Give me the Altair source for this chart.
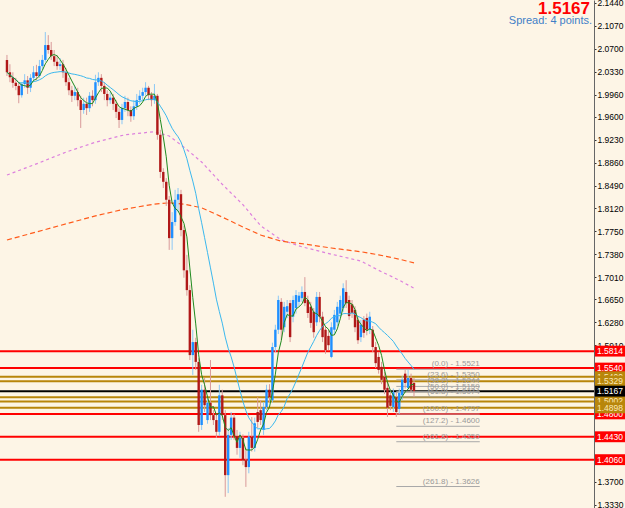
import altair as alt
import pandas as pd

# ---------------- data (prices) ----------------
opens = [2.052,2.032,2.024,2.015,2.010,1.995,2.013,2.019,2.007,2.023,
         2.032,2.026,2.042,2.052,2.076,2.068,2.058,2.049,2.042,2.045,
         2.032,2.016,2.003,1.994,2.000,1.987,1.971,1.981,1.974,1.994,
         1.987,2.016,2.023,2.010,1.997,1.987,1.991,1.981,1.968,1.955,
         1.974,1.984,1.971,1.961,1.977,1.987,1.994,2.000,2.007,1.995,
         1.987,1.994,1.931,1.871,1.855,1.826,1.764,1.790,1.826,1.835,
         1.777,1.712,1.680,1.575,1.596,1.564,1.462,1.519,1.470,1.498,
         1.478,1.470,1.451,1.510,1.478,1.381,1.446,1.474,1.444,1.425,
         1.441,1.405,1.394,1.443,1.425,1.483,1.486,1.454,1.491,1.519,
         1.502,1.588,1.616,1.661,1.620,1.645,1.659,1.637,1.651,1.661,
         1.667,1.677,1.664,1.653,1.645,1.628,1.669,1.637,1.616,1.606,
         1.572,1.616,1.628,1.642,1.651,1.677,1.664,1.657,1.648,1.632,
         1.604,1.632,1.635,1.616,1.616,1.588,1.572,1.556,1.540,1.522,
         1.510,1.491,1.507,1.488,1.510,1.545,1.522,1.538,1.530]
closes = [2.032,2.024,2.015,2.010,1.995,2.013,2.019,2.007,2.023,2.032,
          2.026,2.042,2.052,2.076,2.068,2.058,2.049,2.042,2.045,2.032,
          2.016,2.003,1.994,2.000,1.987,1.971,1.981,1.974,1.994,1.987,
          2.016,2.023,2.010,1.997,1.987,1.991,1.981,1.968,1.955,1.974,
          1.984,1.971,1.961,1.977,1.987,1.994,2.000,2.007,1.995,1.987,
          1.994,1.931,1.871,1.855,1.826,1.764,1.790,1.826,1.835,1.777,
          1.712,1.680,1.575,1.596,1.564,1.462,1.519,1.494,1.498,1.478,
          1.470,1.451,1.510,1.478,1.381,1.446,1.474,1.444,1.425,1.441,
          1.405,1.394,1.443,1.425,1.465,1.467,1.470,1.491,1.519,1.507,
          1.588,1.616,1.664,1.616,1.653,1.654,1.604,1.664,1.672,1.671,
          1.677,1.659,1.643,1.627,1.612,1.669,1.637,1.604,1.583,1.591,
          1.620,1.640,1.653,1.664,1.683,1.659,1.638,1.643,1.620,1.599,
          1.624,1.611,1.616,1.637,1.588,1.562,1.551,1.535,1.519,1.490,
          1.493,1.515,1.483,1.514,1.535,1.530,1.538,1.519,1.5167]
highs = [2.060,2.045,2.032,2.023,2.016,2.016,2.029,2.026,2.029,2.042,
         2.044,2.052,2.060,2.097,2.092,2.081,2.068,2.060,2.055,2.052,
         2.039,2.023,2.010,2.010,2.007,1.994,1.991,1.991,2.000,2.003,
         2.028,2.032,2.029,2.016,2.003,2.000,1.997,1.987,1.974,1.981,
         1.994,1.991,1.977,1.987,1.997,2.003,2.007,2.016,2.010,2.000,
         2.013,1.997,1.939,1.877,1.861,1.832,1.806,1.842,1.845,1.842,
         1.784,1.737,1.688,1.616,1.603,1.570,1.527,1.538,1.506,1.567,
         1.486,1.480,1.527,1.519,1.486,1.457,1.483,1.480,1.454,1.451,
         1.447,1.425,1.451,1.475,1.474,1.507,1.502,1.499,1.527,1.528,
         1.595,1.624,1.671,1.667,1.661,1.664,1.664,1.671,1.680,1.677,
         1.686,1.701,1.671,1.661,1.651,1.677,1.677,1.645,1.622,1.616,
         1.628,1.648,1.661,1.671,1.691,1.696,1.671,1.664,1.654,1.638,
         1.632,1.638,1.642,1.645,1.622,1.596,1.580,1.564,1.548,1.532,
         1.519,1.521,1.515,1.521,1.541,1.551,1.551,1.545,1.538]
lows = [2.026,2.016,2.007,2.003,1.982,1.991,2.007,1.997,2.000,2.016,
        2.019,2.023,2.036,2.049,2.062,2.052,2.042,2.036,2.036,2.023,
        2.010,1.995,1.984,1.987,1.977,1.942,1.965,1.963,1.968,1.977,
        1.981,2.010,2.000,1.987,1.977,1.981,1.971,1.958,1.942,1.948,
        1.968,1.961,1.952,1.955,1.971,1.981,1.987,1.994,1.987,1.977,
        1.981,1.923,1.861,1.845,1.816,1.745,1.745,1.784,1.806,1.767,
        1.700,1.671,1.567,1.543,1.551,1.451,1.454,1.483,1.464,1.470,
        1.462,1.441,1.444,1.470,1.346,1.352,1.438,1.438,1.414,1.409,
        1.397,1.362,1.384,1.419,1.419,1.457,1.462,1.446,1.486,1.499,
        1.498,1.580,1.609,1.599,1.612,1.635,1.596,1.628,1.642,1.654,
        1.661,1.654,1.635,1.619,1.603,1.622,1.628,1.596,1.577,1.583,
        1.570,1.609,1.622,1.635,1.645,1.651,1.632,1.635,1.612,1.593,
        1.596,1.603,1.607,1.609,1.580,1.554,1.545,1.528,1.512,1.475,
        1.486,1.483,1.475,1.480,1.502,1.521,1.519,1.514,1.507]
bar_index = list(range(len(closes)))

# long moving averages
long_ma_index = [0,10,20,30,40,50,55,60,66,73,80,86,93,100,110,120,126,133,138]
ma_violet = [1.866,1.884,1.903,1.919,1.931,1.936,1.929,1.911,1.887,1.851,
             1.818,1.784,1.761,1.750,1.738,1.727,1.712,1.696,1.683]
ma_orange = [1.761,1.774,1.787,1.800,1.811,1.819,1.821,1.819,1.813,1.798,
             1.782,1.769,1.759,1.755,1.748,1.742,1.737,1.730,1.724]

# horizontal levels
red_levels = [1.5814, 1.5540, 1.4800, 1.4430, 1.4060]
gold_levels = [1.5400, 1.5329, 1.5070, 1.5002, 1.4898]
current_price = 1.5167

# fibonacci
fib_ratios = ["0.0", "23.6", "38.2", "50.0", "61.8", "100.0", "127.2", "161.8", "261.8"]
fib_prices = [1.5521, 1.5350, 1.5244, 1.5159, 1.5074, 1.4797, 1.4600, 1.4350, 1.3626]
fib_start_bar, fib_end_bar = 132, 160.3

axis_ticks = [2.1440, 2.1070, 2.0700, 2.0330, 1.9960, 1.9600, 1.9230, 1.8860, 1.8490,
              1.8120, 1.7750, 1.7380, 1.7010, 1.6650, 1.6280, 1.5910, 1.3700, 1.3330]

spread_text = "Spread: 4 points."

# ---------------- styles ----------------
BG = "#FDF5E6"
UP, DOWN = "#1E8FFF", "#B01818"
UP_WICK, DOWN_WICK = "#8CC8F5", "#D99A9A"
RED, GOLD, BLACK = "#FF0000", "#B8860B", "#000000"
FONT = "Liberation Sans"
W, H = 594, 508

xs = alt.Scale(domain=[-0.6667, 197.3333], nice=False, zero=False)
ys = alt.Scale(domain=[1.3279, 2.1488], nice=False, zero=False)

yaxis = alt.Axis(orient="right", values=axis_ticks, format=".4f", title=None,
                 labelFont=FONT, labelFontSize=8.5, labelColor="black",
                 tickSize=2, tickColor="#333333", domainColor="#666666",
                 labelPadding=1, grid=False, labelOverlap=False, labelBound=False,
                 labelFlush=False)


def X(f):
    return alt.X(f, type="quantitative", scale=xs, axis=None)


def Y(f):
    return alt.Y(f, type="quantitative", scale=ys, axis=yaxis)


df = pd.DataFrame({"idx": bar_index, "open": opens, "close": closes,
                   "high": highs, "low": lows})
base = alt.Chart(df)

is_up = "datum.close >= datum.open"

# long MAs
dfl = pd.DataFrame({"idx": long_ma_index, "violet": ma_violet, "orange": ma_orange})
violet = alt.Chart(dfl).mark_line(color="#DD80DD", strokeWidth=1.2, strokeDash=[3, 3]).encode(
    x=X("idx"), y=Y("violet"))
orange = alt.Chart(dfl).mark_line(color="#FF5A1A", strokeWidth=1.2, strokeDash=[5, 3]).encode(
    x=X("idx"), y=Y("orange"))

wicks = base.mark_rule(strokeWidth=1).encode(
    x=X("idx"), y=Y("low"), y2="high",
    color=alt.condition(is_up, alt.value(UP_WICK), alt.value(DOWN_WICK)))
bodies = base.mark_bar(size=2.4).encode(
    x=X("idx"), y=Y("open"), y2="close",
    color=alt.condition(is_up, alt.value(UP), alt.value(DOWN)))

ma_fast = base.transform_window(
    ma="mean(close)", frame=[-4, 0], sort=[alt.SortField("idx")]
).mark_line(color="#1F8A1F", strokeWidth=1).encode(x=X("idx"), y=Y("ma"))
ma_slow = base.transform_window(
    ma="mean(close)", frame=[-20, 0], sort=[alt.SortField("idx")]
).mark_line(color="#3BB8EE", strokeWidth=1).encode(x=X("idx"), y=Y("ma"))

# fib
dff = pd.DataFrame({"price": fib_prices,
                    "label": ["(" + r + ") - " + f"{p:.4f}" for r, p in zip(fib_ratios, fib_prices)],
                    "x0": [fib_start_bar] * len(fib_prices),
                    "x1": [fib_end_bar] * len(fib_prices)})
fib_lines = alt.Chart(dff).mark_rule(color="#A8A8A8", strokeWidth=1).encode(
    x=X("x0"), x2="x1", y=Y("price"))
fib_text = alt.Chart(dff).mark_text(align="right", baseline="bottom", dy=-1, font=FONT,
                                    fontSize=8, color="#9A9A9A").encode(
    x=X("x1"), y=Y("price"), text="label:N")

# level lines
lv = pd.DataFrame({"price": red_levels + gold_levels + [current_price],
                   "kind": ["red"] * len(red_levels) + ["gold"] * len(gold_levels) + ["cur"]})
line_colors = alt.Scale(domain=["red", "gold", "cur"], range=[RED, GOLD, BLACK])
level_lines = alt.Chart(lv).mark_rule(strokeWidth=2).encode(
    y=Y("price"), color=alt.Color("kind:N", scale=line_colors, legend=None))

# level boxes on the price axis
HALF = 0.0088
box_layers = []
for price, kind in zip(lv["price"], lv["kind"]):
    d = pd.DataFrame({"price": [price], "label": [f"{price:.4f}"]})
    fill = {"red": RED, "gold": GOLD, "cur": BLACK}[kind]
    tcol = {"red": "white", "gold": "#FBE9B8", "cur": "white"}[kind]
    b = alt.Chart(d).transform_calculate(
        top=f"datum.price + {HALF}", bot=f"datum.price - {HALF}"
    ).mark_rect(color=fill).encode(
        x=alt.value(595), x2=alt.value(625), y=Y("top"), y2="bot:Q")
    t = alt.Chart(d).mark_text(font=FONT, fontSize=8.5, color=tcol, align="center",
                               baseline="middle").encode(
        x=alt.value(610), y=Y("price"), text="label:N")
    box_layers += [b, t]

# top right texts
tops = pd.DataFrame({"price": [f"{current_price:.4f}"], "spread": [spread_text]})
big_price = alt.Chart(tops).mark_text(font=FONT, fontSize=17, fontWeight="bold", color="#FF0000",
                                      align="right", baseline="middle").encode(
    x=alt.value(590), y=alt.value(9), text="price:N")
spread = alt.Chart(tops).mark_text(font=FONT, fontSize=11, color="#3F7FC6",
                                   align="right", baseline="middle").encode(
    x=alt.value(592), y=alt.value(21), text="spread:N")

chart = alt.layer(
    violet, orange, level_lines, fib_lines, fib_text, wicks, bodies, ma_slow, ma_fast,
    *box_layers, big_price, spread
).properties(
    width=W, height=H, background=BG,
    autosize=alt.AutoSizeParams(type="none"),
    padding={"left": 0, "top": 0, "right": 31, "bottom": 0}
).configure_view(strokeWidth=0, fill=BG)

chart.save("out.html", embed_options={"renderer": "svg", "actions": False})
